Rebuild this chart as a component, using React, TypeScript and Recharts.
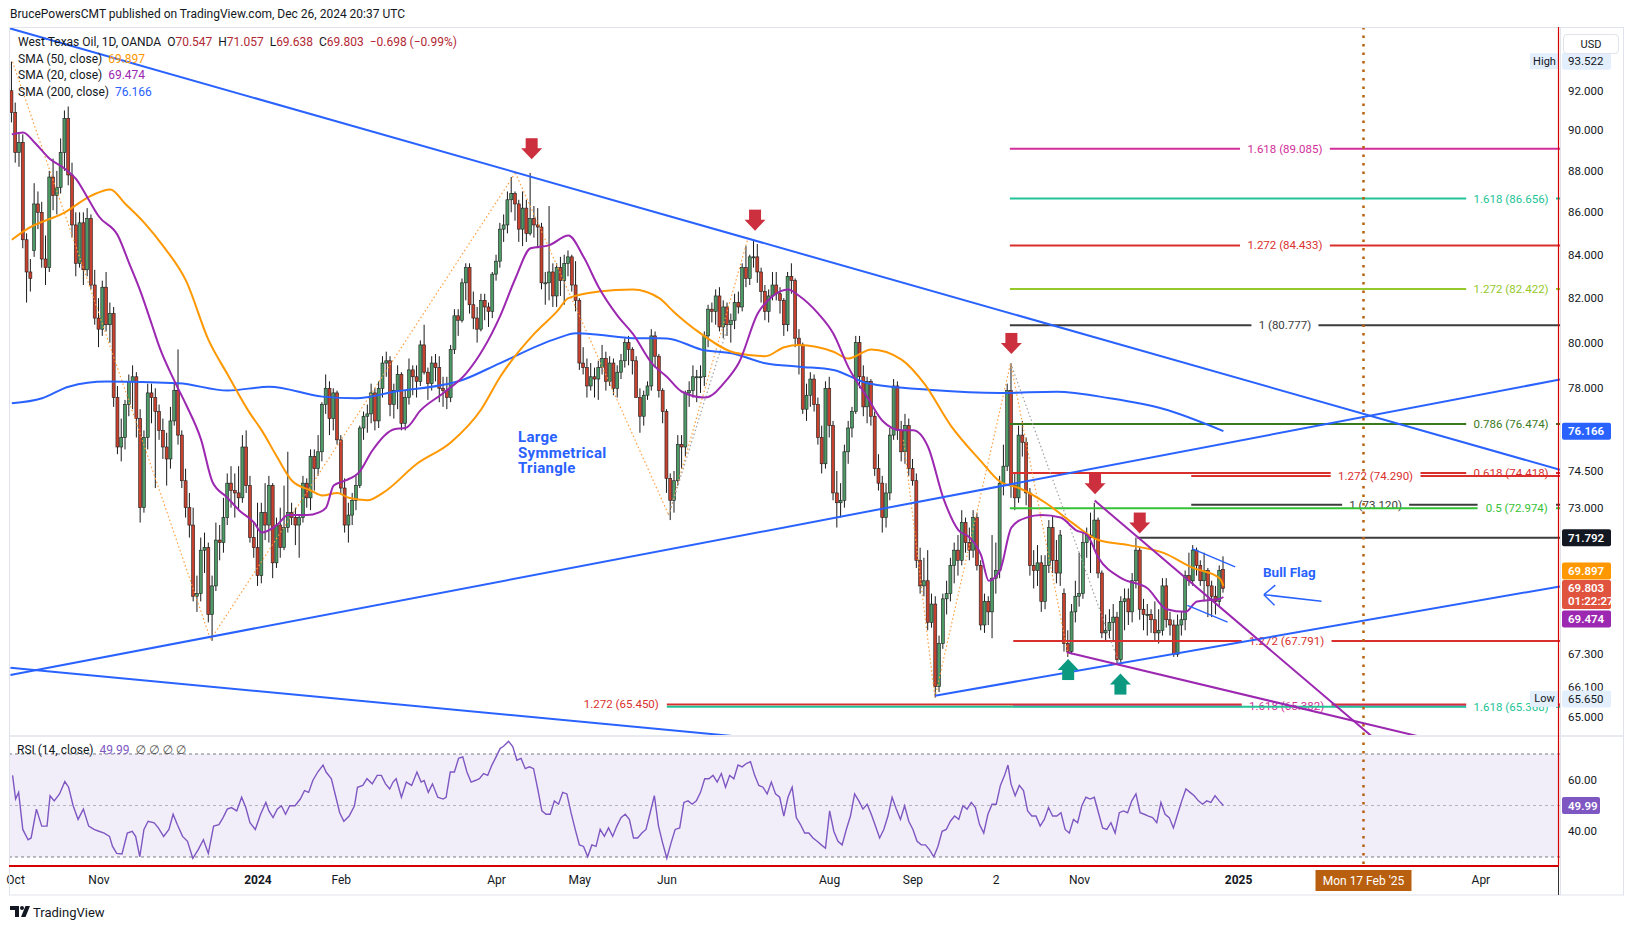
import React from 'react';
import { ComposedChart, Bar, Line, XAxis, YAxis, ReferenceLine, ReferenceArea, ReferenceDot } from 'recharts';

const FONT = "Roboto, 'Noto Sans', 'DejaVu Sans', sans-serif";

// ---- axes domains (bar index / price / rsi) ----
const X_MIN = -0.48;
const X_MAX = 408.9;
const P_MIN = 64.35;
const P_MAX = 95.26;
const R_MIN = 27.28;
const R_MAX = 76.6;

// ---- daily candles [open, high, low, close], one row per trading day from 29 Sep 2023 ----
const sep23 = [[92.0, 93.5, 90.4, 90.9]];
const oct23 = [
  [90.9, 91.4, 88.4, 88.9], [88.9, 89.9, 88.2, 89.4], [89.4, 89.8, 84.3, 84.7], [84.7, 85.0, 81.8, 83.2], [83.2, 83.8, 82.3, 82.9],
  [84.2, 87.4, 83.9, 86.4], [86.4, 87.0, 85.2, 86.0], [86.0, 86.5, 83.4, 83.8], [83.8, 84.9, 82.6, 83.4], [83.4, 88.0, 83.2, 87.7],
  [87.7, 88.6, 86.1, 86.8], [86.8, 88.0, 85.9, 87.2], [87.2, 89.6, 86.9, 88.9], [88.9, 91.0, 88.0, 90.6], [90.6, 91.2, 87.3, 87.8],
  [87.8, 88.4, 84.8, 85.4], [85.4, 86.0, 83.0, 83.6], [83.6, 86.0, 83.4, 85.5], [85.5, 86.0, 82.6, 83.3], [83.3, 86.2, 83.0, 85.7],
  [85.7, 85.9, 82.4, 82.6], [82.6, 83.3, 80.8, 81.1],
];
const nov23 = [
  [81.1, 82.0, 79.8, 80.6], [80.6, 82.8, 80.3, 82.5], [82.5, 83.2, 80.5, 80.8],
  [80.8, 81.8, 80.0, 81.3], [81.3, 81.6, 77.2, 77.6], [77.6, 78.1, 75.2, 75.5], [75.5, 76.7, 74.9, 75.9], [75.9, 77.5, 75.4, 77.3],
  [77.3, 78.6, 76.8, 78.3], [78.3, 79.0, 77.1, 78.5], [78.5, 78.7, 75.9, 76.7], [76.7, 77.1, 72.4, 73.0], [73.0, 76.2, 72.8, 75.9],
  [75.9, 78.2, 75.4, 77.8], [77.8, 78.2, 76.5, 77.6], [77.6, 78.0, 73.8, 77.0], [77.0, 77.3, 75.8, 76.2], [76.2, 76.7, 75.0, 75.5],
  [75.5, 76.1, 73.9, 75.0], [75.0, 77.2, 74.6, 76.6], [76.6, 78.2, 76.4, 77.9], [77.9, 79.7, 75.6, 76.0],
];
const dec23 = [
  [76.0, 76.2, 73.8, 74.1],
  [74.1, 74.6, 72.6, 73.0], [73.0, 73.6, 71.8, 72.3], [72.3, 73.0, 69.3, 69.5], [69.5, 70.3, 68.9, 69.6], [69.6, 71.8, 69.3, 71.3],
  [71.3, 72.0, 70.4, 71.4], [71.4, 71.6, 68.5, 68.8], [68.8, 70.3, 67.8, 69.9], [69.9, 72.4, 69.7, 71.7], [71.7, 72.3, 70.9, 71.6],
  [71.6, 73.4, 71.2, 72.6], [72.6, 74.4, 72.3, 74.0], [74.0, 74.7, 73.0, 73.7], [73.7, 74.4, 72.6, 73.6], [73.6, 74.7, 72.9, 73.4],
  [73.4, 76.0, 73.2, 75.5], [75.5, 76.2, 73.6, 73.9], [73.9, 74.3, 71.6, 71.8], [71.8, 72.4, 71.0, 71.4],
];
const jan24 = [
  [71.4, 73.2, 69.9, 70.3], [70.3, 73.2, 70.0, 72.8], [72.8, 74.0, 71.7, 72.3], [72.3, 74.3, 71.6, 73.9],
  [73.9, 74.0, 70.2, 70.8], [70.8, 72.6, 70.6, 72.3], [72.3, 73.0, 71.0, 71.4], [71.4, 73.9, 71.3, 72.2], [72.2, 75.3, 72.0, 72.8],
  [72.8, 73.2, 72.3, 72.6], [72.6, 73.0, 71.5, 72.3], [72.3, 72.7, 71.0, 72.6], [72.6, 74.3, 72.4, 74.0], [74.0, 74.2, 73.0, 73.4],
  [73.4, 75.4, 72.9, 75.1], [75.1, 75.4, 73.7, 74.6], [74.6, 76.0, 74.3, 75.3], [75.3, 77.4, 74.9, 77.3], [77.3, 78.6, 76.9, 78.0],
  [78.0, 78.3, 76.0, 76.7], [76.7, 78.0, 76.2, 77.8], [77.8, 77.9, 75.6, 75.8],
];
const feb24 = [
  [75.8, 76.0, 73.6, 73.8], [73.8, 74.2, 72.0, 72.3],
  [72.3, 73.2, 71.6, 72.7], [72.7, 73.6, 72.3, 73.3], [73.3, 74.3, 72.9, 73.9], [73.9, 76.4, 73.8, 76.3], [76.3, 77.0, 75.8, 76.8],
  [76.8, 77.3, 76.1, 76.9], [76.9, 78.2, 76.5, 77.8], [77.8, 78.0, 76.2, 76.6], [76.6, 78.3, 76.3, 78.0], [78.0, 79.4, 77.6, 79.1],
  [79.1, 79.6, 78.5, 79.2], [79.2, 79.4, 76.8, 77.3], [77.3, 78.2, 76.7, 77.9], [77.9, 79.0, 77.1, 78.6], [78.6, 78.7, 76.2, 76.5],
  [76.5, 77.9, 76.2, 77.6], [77.6, 79.3, 77.3, 78.8], [78.8, 79.0, 77.7, 78.5], [78.5, 79.0, 77.6, 78.3],
];
const mar24 = [
  [78.3, 80.1, 78.1, 79.9],
  [79.9, 80.8, 78.6, 78.7], [78.7, 78.9, 77.5, 78.2], [78.2, 79.4, 77.9, 79.1], [79.1, 79.5, 78.3, 78.9], [78.9, 79.4, 77.4, 78.0],
  [78.0, 78.5, 77.2, 77.9], [77.9, 78.5, 77.1, 77.6], [77.6, 79.9, 77.4, 79.7], [79.7, 81.5, 79.5, 81.2], [81.2, 81.5, 80.3, 81.0],
  [81.0, 82.9, 80.9, 82.7], [82.7, 83.6, 81.9, 83.4], [83.4, 83.6, 81.3, 81.7], [81.7, 82.3, 80.6, 81.1], [81.1, 81.6, 80.0, 80.6],
  [80.6, 82.2, 80.5, 81.9], [81.9, 82.2, 81.0, 81.6], [81.6, 81.8, 80.7, 81.4], [81.4, 83.2, 81.1, 83.1],
];
const apr24 = [
  [83.1, 84.0, 82.8, 83.7], [83.7, 85.5, 83.4, 85.2], [85.2, 85.9, 84.6, 85.4], [85.4, 87.0, 85.0, 86.6], [86.6, 87.7, 86.0, 86.9],
  [86.9, 87.0, 85.6, 86.4], [86.4, 86.6, 84.6, 85.2], [85.2, 87.0, 84.4, 86.2], [86.2, 86.6, 84.6, 85.0], [85.0, 87.9, 84.9, 85.7],
  [85.7, 86.3, 84.8, 85.4], [85.4, 86.2, 84.3, 85.3], [85.3, 85.5, 82.4, 82.7], [82.7, 83.2, 81.7, 82.7], [82.7, 86.3, 81.9, 83.2],
  [83.2, 83.6, 81.6, 82.1], [82.1, 83.6, 81.6, 83.4], [83.4, 83.9, 82.1, 82.8], [82.8, 84.0, 81.7, 83.6], [83.6, 84.2, 83.0, 83.9],
  [83.9, 84.0, 82.3, 82.6], [82.6, 83.7, 81.4, 81.9],
];
const may24 = [
  [81.9, 82.0, 78.8, 79.1], [79.1, 79.8, 78.6, 78.9], [78.9, 79.3, 77.6, 78.1],
  [78.1, 79.1, 77.9, 78.5], [78.5, 78.9, 77.6, 78.4], [78.4, 79.2, 77.5, 78.9], [78.9, 79.9, 78.6, 79.3], [79.3, 79.6, 77.9, 78.3],
  [78.3, 79.4, 78.1, 79.1], [79.1, 79.3, 77.7, 78.0], [78.0, 79.0, 77.6, 78.7], [78.7, 79.5, 78.4, 79.2], [79.2, 80.2, 78.9, 80.0],
  [80.0, 80.3, 79.0, 79.7], [79.7, 79.8, 78.6, 79.2], [79.2, 79.4, 77.6, 77.6], [77.6, 78.0, 76.1, 76.8], [76.8, 77.9, 76.4, 77.7],
  [77.7, 78.3, 77.5, 78.1], [78.1, 80.6, 77.9, 80.3], [80.3, 80.5, 78.9, 79.4], [79.4, 79.5, 77.6, 77.9], [77.9, 78.0, 76.5, 77.0],
];
const jun24 = [
  [77.0, 77.1, 73.6, 74.2], [74.2, 74.4, 72.5, 73.3], [73.3, 74.5, 72.8, 74.1], [74.1, 76.0, 73.9, 75.6], [75.6, 76.0, 74.6, 75.5],
  [75.5, 77.9, 75.1, 77.8], [77.8, 78.3, 77.2, 77.9], [77.9, 79.0, 77.6, 78.5], [78.5, 78.8, 77.4, 78.5], [78.5, 79.0, 77.8, 78.5],
  [78.5, 80.5, 78.1, 80.3], [80.3, 81.7, 79.8, 81.5], [81.5, 81.8, 80.9, 81.4], [81.4, 82.4, 80.8, 82.1], [82.1, 82.5, 80.5, 80.7],
  [80.7, 81.9, 80.2, 81.6], [81.6, 81.8, 80.3, 80.8], [80.8, 81.3, 80.0, 81.0], [81.0, 82.2, 80.6, 81.8], [81.8, 82.3, 81.3, 81.6],
];
const jul24 = [
  [81.6, 83.6, 81.4, 83.4], [83.4, 84.4, 82.5, 82.9], [82.9, 84.0, 82.6, 83.9], [83.9, 84.7, 83.4, 83.9], [83.9, 84.5, 82.7, 83.2],
  [83.2, 83.4, 81.8, 82.3], [82.3, 82.6, 81.0, 81.4], [81.4, 82.4, 80.9, 82.1], [82.1, 83.2, 81.9, 82.6], [82.6, 83.2, 81.9, 82.2],
  [82.2, 82.5, 81.3, 81.9], [81.9, 82.0, 80.3, 80.8], [80.8, 83.2, 80.5, 83.0], [83.0, 83.6, 82.2, 82.8], [82.8, 82.9, 79.8, 80.2],
  [80.2, 80.6, 78.6, 79.9], [79.9, 80.0, 76.9, 77.1], [77.1, 78.2, 76.6, 77.7], [77.7, 78.7, 77.2, 78.4], [78.4, 78.6, 77.0, 77.3],
  [77.3, 77.6, 75.6, 75.9], [75.9, 76.4, 74.4, 74.8], [74.8, 78.3, 74.6, 78.0],
];
const aug24 = [
  [78.0, 78.5, 75.9, 76.4], [76.4, 76.6, 73.3, 73.6],
  [73.6, 74.5, 72.2, 73.2], [73.2, 74.0, 72.6, 73.3], [73.3, 75.6, 73.0, 75.3], [75.3, 76.6, 74.8, 76.3], [76.3, 77.2, 75.9, 77.0],
  [77.0, 80.3, 76.9, 80.0], [80.0, 80.3, 78.0, 78.5], [78.5, 79.0, 76.8, 77.2], [77.2, 78.5, 76.5, 78.3], [78.3, 78.4, 76.4, 76.8],
  [76.8, 77.0, 74.3, 74.6], [74.6, 75.2, 73.7, 74.0], [74.0, 74.3, 72.0, 72.6], [72.6, 74.0, 72.2, 73.6], [73.6, 76.3, 73.3, 76.0],
  [76.0, 78.4, 75.8, 78.1], [78.1, 78.3, 75.8, 76.2], [76.2, 76.6, 74.9, 75.3], [75.3, 76.9, 74.8, 76.4], [76.4, 76.7, 74.3, 74.6],
];
const sep24 = [
  [74.6, 75.0, 73.9, 74.1], [74.1, 74.4, 70.6, 70.9], [70.9, 71.4, 69.6, 69.9], [69.9, 71.0, 69.5, 70.1], [70.1, 71.3, 68.2, 68.5],
  [68.5, 69.6, 68.3, 69.2], [69.2, 69.5, 65.7, 66.1], [66.1, 68.0, 65.9, 67.7], [67.7, 69.6, 67.5, 69.4], [69.4, 70.1, 68.8, 69.6],
  [69.6, 71.0, 69.3, 70.7], [70.7, 71.6, 70.0, 71.3], [71.3, 71.9, 70.3, 70.9], [70.9, 72.9, 70.7, 72.4], [72.4, 72.6, 71.2, 71.6],
  [71.6, 72.2, 70.9, 71.3], [71.3, 72.9, 71.0, 72.6], [72.6, 72.8, 70.5, 70.7], [70.7, 70.9, 68.2, 68.4], [68.4, 69.6, 68.1, 69.3],
  [69.3, 69.5, 68.4, 68.9],
];
const oct24 = [
  [68.9, 71.9, 67.9, 70.2], [70.2, 71.6, 69.6, 70.5], [70.5, 74.3, 70.2, 74.0], [74.0, 75.6, 73.5, 74.7],
  [74.7, 78.2, 74.5, 77.9], [77.9, 79.1, 73.4, 73.9], [73.9, 74.4, 72.9, 73.4], [73.4, 76.4, 73.2, 76.0], [76.0, 76.6, 75.1, 75.7],
  [75.7, 75.9, 73.1, 73.6], [73.6, 73.8, 70.3, 70.7], [70.7, 71.3, 69.8, 70.5], [70.5, 71.5, 69.9, 70.8], [70.8, 71.1, 68.9, 69.3],
  [69.3, 71.1, 69.0, 70.7], [70.7, 72.5, 70.4, 72.2], [72.2, 72.7, 70.4, 70.9], [70.9, 71.7, 70.0, 70.4], [70.4, 72.1, 69.9, 71.9],
  [69.6, 69.8, 67.4, 67.7], [67.7, 68.2, 67.2, 67.4], [67.4, 69.2, 67.3, 68.9], [68.9, 70.1, 68.5, 69.5],
];
const nov24 = [
  [69.5, 71.2, 69.1, 69.6],
  [69.6, 72.0, 69.4, 71.6], [71.6, 72.2, 71.0, 71.9], [71.9, 72.8, 70.4, 71.8], [71.8, 73.2, 71.3, 72.5], [72.5, 72.6, 70.2, 70.4],
  [70.4, 70.5, 67.9, 68.1], [68.1, 68.8, 67.8, 68.2], [68.2, 69.0, 67.9, 68.5], [68.5, 69.2, 67.8, 68.7], [68.7, 68.9, 66.9, 67.1],
  [67.1, 69.5, 67.0, 69.3], [69.3, 69.8, 68.2, 69.4], [69.4, 69.8, 68.4, 68.9], [68.9, 70.4, 68.5, 70.1], [70.1, 71.8, 69.8, 71.3],
  [71.3, 71.4, 68.6, 69.0], [69.0, 69.4, 68.2, 68.8], [68.8, 69.2, 68.0, 68.8], [68.8, 69.0, 68.1, 68.6], [68.6, 69.3, 67.8, 68.1],
];
const dec24 = [
  [68.1, 69.0, 67.7, 68.2], [68.2, 70.2, 68.0, 69.9], [69.9, 70.2, 68.3, 68.6], [68.6, 68.9, 68.0, 68.4], [68.4, 68.6, 67.2, 67.3],
  [67.3, 68.8, 67.2, 68.4], [68.4, 68.9, 68.0, 68.6], [68.6, 70.5, 68.2, 70.3], [70.3, 71.2, 69.9, 70.1], [70.1, 71.5, 69.9, 71.3],
  [71.3, 71.4, 70.3, 70.7], [70.7, 70.9, 69.9, 70.1], [70.1, 71.2, 69.3, 70.5], [70.5, 70.6, 68.7, 69.9], [69.9, 70.1, 68.7, 69.5],
  [69.5, 69.9, 68.8, 69.3], [69.3, 70.7, 69.1, 70.5], [70.547, 71.057, 69.638, 69.803],
];

// ---- moving averages: [bar index, value] ----
const sma200 = [
  [0, 77.35], [8, 77.57], [15, 78.07], [25, 78.29], [44, 78.22], [57, 77.9], [68, 78.07], [82, 77.64], [91, 77.57], [101, 77.85],
  [119, 78.36], [129, 79.1], [144, 80.19], [149, 80.42], [155, 80.35], [164, 80.2], [173, 80.19], [182, 79.7], [191, 79.5],
  [199, 79.09], [208, 78.94], [217, 78.8], [226, 78.22], [243, 77.93], [261, 77.8], [276, 77.85], [290, 77.57], [304, 77.12], [320, 76.17],
];
const sma50 = [
  [0, 84.7], [4, 85.2], [14, 86.0], [21, 86.8], [26, 87.1], [30, 86.4], [35, 85.5], [40, 84.4], [46, 82.8], [52, 80.1], [57, 78.6],
  [63, 76.9], [66, 76.2], [70, 75.1], [74, 74.1], [79, 73.7], [82, 73.5], [86, 73.6], [89, 73.4], [94, 73.3], [98, 73.6], [107, 74.8],
  [116, 75.7], [124, 77.1], [129, 78.5], [138, 80.4], [144, 81.4], [147, 82.0], [155, 82.3], [164, 82.4], [171, 82.0], [175, 81.35],
  [182, 80.4], [191, 79.55], [199, 79.4], [204, 79.8], [208, 79.9], [217, 79.6], [221, 79.3], [227, 79.7], [235, 79.25], [241, 78.2],
  [248, 76.4], [256, 74.9], [261, 74.06], [266, 73.8], [273, 73.2], [280, 72.4], [287, 71.7], [295, 71.5], [304, 71.2], [312, 70.6],
  [319, 70.2], [320, 69.9],
];
const sma20 = [
  [0, 89.8], [3, 89.9], [6, 89.4], [10, 88.6], [14, 88.1], [17, 87.6], [20, 86.7], [23, 85.8], [28, 84.9], [31, 83.6], [34, 82.3],
  [37, 80.8], [39, 79.8], [43, 78.3], [46, 77.3], [50, 75.8], [53, 74.05], [57, 73.4], [60, 72.9], [64, 72.4], [66, 72.0], [70, 72.3],
  [73, 72.7], [78, 72.7], [81, 72.8], [83, 73.0], [85, 73.9], [88, 74.1], [92, 74.5], [95, 75.3], [101, 76.25], [104, 76.3], [108, 77.06],
  [114, 77.8], [120, 78.65], [129, 81.2], [133, 82.9], [137, 84.3], [142, 84.45], [147, 84.9], [151, 83.9], [155, 82.5], [160, 81.2],
  [164, 80.4], [169, 79.1], [173, 78.5], [177, 77.85], [183, 77.6], [189, 78.4], [192, 79.1], [197, 81.3], [201, 82.1], [205, 82.4],
  [208, 82.1], [213, 81.3], [217, 80.4], [221, 78.9], [226, 77.6], [230, 76.6], [235, 76.2], [238, 76.2], [242, 75.5], [246, 73.4],
  [250, 72.1], [253, 71.8], [256, 71.1], [258, 70.1], [261, 70.5], [264, 72.2], [268, 72.6], [272, 72.7], [277, 72.6], [281, 72.1],
  [284, 71.9], [287, 71.0], [293, 70.2], [300, 69.8], [305, 69.0], [310, 68.9], [313, 69.3], [319, 69.4], [320, 69.47],
];

// ---- RSI(14): [bar index, value] ----
const rsiPts = [
  [0.2, 61.7], [1.0, 52.5], [1.8, 55.1], [2.9, 40.7], [4.3, 36.7], [5.1, 37.4], [6.5, 48.6], [7.9, 42.0], [9.3, 42.0], [10.1, 53.8],
  [11.2, 51.8], [12.6, 54.5], [14.0, 59.3], [15.0, 57.1], [16.2, 49.9], [17.5, 44.6], [18.9, 48.6], [20.3, 42.0], [21.7, 40.7],
  [23.0, 40.0], [24.4, 39.3], [25.8, 38.0], [26.6, 34.1], [27.7, 31.4], [29.1, 31.2], [30.5, 39.3], [31.8, 40.0], [32.7, 38.0],
  [33.8, 30.1], [34.9, 40.7], [36.0, 43.9], [37.6, 43.3], [38.7, 41.3], [40.1, 38.0], [41.5, 40.7], [42.6, 46.6], [43.7, 42.6],
  [45.1, 38.0], [46.4, 36.1], [47.8, 29.5], [49.2, 32.8], [50.6, 36.7], [51.9, 31.4], [53.3, 42.0], [54.7, 42.6], [55.8, 45.3],
  [56.9, 48.6], [58.0, 49.2], [59.4, 47.9], [60.7, 53.2], [61.8, 49.2], [62.9, 43.3], [64.3, 40.7], [65.7, 46.6], [67.1, 51.2],
  [67.9, 47.9], [69.0, 45.3], [70.1, 48.6], [71.2, 49.9], [72.3, 46.6], [73.4, 49.9], [74.8, 49.9], [76.2, 52.5], [77.3, 55.8],
  [78.4, 55.1], [79.5, 59.7], [80.8, 63.0], [82.2, 65.7], [83.0, 63.0], [84.4, 60.4], [85.5, 53.8], [86.6, 47.2], [87.7, 43.9],
  [89.1, 45.9], [90.5, 49.9], [91.3, 57.1], [92.7, 57.8], [93.8, 60.4], [95.2, 58.4], [96.5, 61.7], [97.6, 61.7], [98.7, 58.4],
  [99.8, 56.4], [100.7, 59.1], [101.5, 60.4], [102.9, 53.2], [104.2, 59.1], [105.6, 57.8], [107.0, 63.0], [108.1, 59.1], [108.9, 59.7],
  [110.0, 55.1], [111.1, 58.4], [112.5, 53.2], [113.9, 52.5], [114.7, 53.2], [115.8, 63.0], [116.9, 63.0], [118.0, 68.3], [119.1, 68.9],
  [120.2, 63.0], [121.3, 59.1], [122.4, 59.7], [123.5, 60.4], [124.6, 62.4], [125.7, 61.7], [126.8, 65.7], [127.9, 68.9], [129.0, 72.2],
  [129.8, 72.9], [131.2, 74.9], [132.3, 72.9], [133.4, 67.6], [134.5, 68.3], [135.6, 64.3], [136.7, 65.0], [137.8, 64.3], [138.9, 56.4],
  [140.0, 47.9], [141.1, 46.6], [142.2, 46.6], [143.3, 51.8], [144.4, 50.5], [145.5, 55.1], [146.6, 54.5], [147.7, 47.2], [148.8, 40.7],
  [149.9, 34.7], [151.0, 34.1], [152.1, 30.1], [153.2, 34.7], [154.3, 34.1], [155.4, 40.7], [156.5, 38.0], [157.6, 41.3], [158.7, 38.0],
  [159.8, 42.0], [160.9, 45.3], [162.0, 46.6], [163.1, 44.6], [164.2, 37.4], [165.3, 37.4], [166.4, 39.3], [167.5, 40.7], [168.6, 47.2],
  [169.7, 53.8], [170.8, 42.0], [171.9, 35.4], [173.0, 29.5], [174.1, 35.4], [175.2, 40.7], [176.4, 41.3], [177.5, 51.2], [178.6, 51.8],
  [179.7, 50.5], [180.8, 51.8], [181.9, 55.1], [183.0, 60.4], [184.1, 60.4], [185.2, 61.7], [186.3, 59.1], [187.4, 62.4], [188.5, 57.1],
  [189.6, 61.7], [190.7, 60.4], [191.8, 65.7], [192.9, 65.0], [194.0, 66.3], [195.1, 67.0], [196.2, 61.7], [197.3, 57.8], [198.4, 57.1],
  [199.5, 54.5], [200.6, 59.1], [201.7, 54.5], [202.8, 53.2], [203.9, 45.9], [205.0, 53.2], [206.1, 57.1], [207.2, 45.3], [208.3, 42.6],
  [209.4, 39.3], [210.5, 39.3], [211.6, 37.4], [212.7, 36.1], [213.8, 34.7], [214.9, 33.4], [216.0, 47.9], [217.1, 40.0], [218.2, 36.1],
  [219.3, 34.7], [220.4, 40.7], [221.5, 45.9], [222.6, 54.5], [223.7, 51.8], [224.8, 48.6], [225.9, 50.5], [227.0, 46.6], [228.1, 42.0],
  [229.2, 37.4], [230.3, 40.7], [231.4, 45.9], [232.5, 53.2], [233.6, 48.6], [234.7, 44.6], [235.8, 49.9], [236.9, 43.9], [238.0, 40.7],
  [239.1, 36.1], [240.2, 34.7], [241.3, 34.7], [242.4, 32.8], [243.5, 30.1], [244.6, 34.1], [245.7, 40.0], [246.8, 40.7], [247.9, 43.9],
  [249.0, 45.9], [250.1, 44.6], [251.2, 49.9], [252.3, 48.6], [253.4, 51.2], [254.5, 49.2], [255.6, 42.6], [256.7, 39.3], [257.8, 46.6],
  [258.9, 50.5], [260.0, 50.5], [261.1, 57.8], [262.2, 61.7], [263.1, 65.7], [263.9, 58.4], [265.0, 53.8], [266.1, 57.8], [267.2, 55.8],
  [268.3, 47.9], [269.4, 45.9], [270.5, 45.9], [271.6, 42.0], [272.7, 44.6], [273.8, 49.2], [274.9, 45.9], [276.0, 45.9], [277.1, 47.2],
  [278.2, 40.7], [279.3, 39.3], [280.4, 44.6], [281.5, 43.3], [282.6, 49.9], [283.7, 53.2], [284.8, 52.5], [285.9, 53.2], [287.0, 47.2],
  [288.1, 41.3], [289.2, 40.7], [290.3, 43.3], [291.4, 39.3], [292.5, 47.2], [293.6, 47.9], [294.7, 47.2], [295.8, 51.8], [296.9, 54.5],
  [298.0, 47.2], [299.1, 46.6], [300.2, 45.9], [301.3, 45.3], [302.4, 43.3], [303.5, 51.2], [304.6, 46.6], [305.7, 45.3], [306.8, 41.3],
  [307.9, 46.6], [309.0, 51.8], [310.1, 56.4], [311.2, 55.1], [312.3, 53.8], [313.4, 51.8], [314.5, 50.5], [315.6, 51.8], [316.7, 51.2],
  [317.8, 53.8], [318.9, 51.8], [320, 49.99],
];

// ---- time axis labels (bar index of first bar of period) ----
const timeTicks = [
  { i: 1, label: 'Oct' }, { i: 23, label: 'Nov' }, { i: 65, label: '2024', bold: true }, { i: 87, label: 'Feb' },
  { i: 128, label: 'Apr' }, { i: 150, label: 'May' }, { i: 173, label: 'Jun' }, { i: 216, label: 'Aug' },
  { i: 238, label: 'Sep' }, { i: 260, label: '2' }, { i: 282, label: 'Nov' }, { i: 324, label: '2025', bold: true },
  { i: 357, label: "Mon 17 Feb '25", hl: true }, { i: 388, label: 'Apr' },
];
const priceTicks = [92, 90, 88, 86, 84, 82, 80, 78, 74.5, 73, 67.3, 66.1, 65];
const priceTagValues = [93.522, 65.65, 76.166, 71.792, 69.474, 69.897, 69.803];
const rsiTicks = [60, 40, 49.99];

// ---- drawings ----
const fibLevels = [
  { start: 263.6, price: 89.085, text: '1.618 (89.085)', color: '#d12e99', pos: 'center' },
  { start: 263.6, price: 86.656, text: '1.618 (86.656)', color: '#22c497', pos: 'right' },
  { start: 263.6, price: 84.433, text: '1.272 (84.433)', color: '#d9302e', pos: 'center' },
  { start: 263.6, price: 82.422, text: '1.272 (82.422)', color: '#95c92a', pos: 'right' },
  { start: 263.6, price: 80.777, text: '1 (80.777)', color: '#3c3c3c', pos: 'center' },
  { start: 263.6, price: 76.474, text: '0.786 (76.474)', color: '#3a7a1e', pos: 'right' },
  { start: 263.6, price: 74.418, text: '0.618 (74.418)', color: '#d9302e', pos: 'right' },
  { start: 311.5, price: 74.29, text: '1.272 (74.290)', color: '#d9302e', pos: 'center' },
  { start: 311.5, price: 73.12, text: '1 (73.120)', color: '#3c3c3c', pos: 'center' },
  { start: 263.6, price: 72.974, text: '0.5 (72.974)', color: '#36c236', pos: 'right' },
  { start: 297.3, price: 71.792, text: '', color: '#3c3c3c', pos: 'none' },
  { start: 264.5, price: 67.791, text: '1.272 (67.791)', color: '#d9302e', pos: 'center' },
  { start: 173, price: 65.45, text: '1.272 (65.450)', color: '#d9302e', pos: 'left' },
  { start: 264.5, price: 65.382, text: '1.618 (65.382)', color: '#d12e99', pos: 'center' },
  { start: 173, price: 65.368, text: '1.618 (65.368)', color: '#22c497', pos: 'right' },
];
const trendLines = [
  { a: [-0.48, 95.24], b: [408.9, 74.55], color: '#2962ff', w: 2 },
  { a: [-0.37, 66.53], b: [408.9, 78.38], color: '#2962ff', w: 2 },
  { a: [-0.37, 66.8], b: [200, 64.19], color: '#2962ff', w: 2 },
  { a: [243.8, 65.77], b: [408.9, 69.88], color: '#2962ff', w: 2 },
  { a: [286, 73.29], b: [362, 63.98], color: '#9c27b0', w: 2 },
  { a: [278.6, 67.37], b: [380, 64.03], color: '#9c27b0', w: 2 },
  { a: [311.7, 71.36], b: [323.1, 70.64], color: '#2962ff', w: 1.5 },
  { a: [310.5, 69.15], b: [321.1, 68.51], color: '#2962ff', w: 1.5 },
  { a: [345.9, 69.31], b: [330.7, 69.56], color: '#2962ff', w: 1.5 },
  { a: [330.7, 69.56], b: [333.7, 69.93], color: '#2962ff', w: 1.5 },
  { a: [330.7, 69.56], b: [333.5, 69.15], color: '#2962ff', w: 1.5 },
];
const zigzags = [
  { a: [0.2, 93.49], b: [52.5, 67.85], color: '#ff9f40' },
  { a: [52.5, 67.85], b: [133, 87.9], color: '#ff9f40' },
  { a: [133, 87.9], b: [173.5, 72.7], color: '#ff9f40' },
  { a: [173.5, 72.7], b: [194.5, 84.8], color: '#ff9f40' },
  { a: [173.5, 72.7], b: [190, 81.2], color: '#a0a0a0' },
  { a: [235.5, 75.8], b: [243.8, 65.7], color: '#ff9f40' },
  { a: [243.8, 65.7], b: [263.8, 79.1], color: '#ff9f40' },
  { a: [263.8, 79.1], b: [279, 67.25], color: '#ff9f40' },
  { a: [263.8, 79.1], b: [292.6, 66.9], color: '#a0a0a0' },
];
const downArrows = [[137.3, 88.57], [196.3, 85.13], [264, 79.5], [286.1, 73.55], [297.9, 71.96]];
const upArrows = [[279, 67.12], [292.8, 66.58]];
const futureLine = 357;

const priceTags = [
  { value: 76.166, bg: '#2962ff', fg: '#ffffff', dy: 0 },
  { value: 71.792, bg: '#131722', fg: '#ffffff', dy: 0 },
  { value: 69.897, bg: '#ff9800', fg: '#ffffff', dy: -15 },
  { value: 69.474, bg: '#9c27b0', fg: '#ffffff', dy: 22 },
  { value: 69.803, bg: '#e0533f', fg: '#ffffff', dy: 0, sub: '01:22:27' },
  { value: 93.522, bg: '#e3effd', fg: '#131722', dy: 0, side: 'High' },
  { value: 65.65, bg: '#e3effd', fg: '#131722', dy: 0, side: 'Low' },
];

// ---- derived chart tables ----
const ohlc = [...sep23, ...oct23, ...nov23, ...dec23, ...jan24, ...feb24, ...mar24, ...apr24, ...may24, ...jun24, ...jul24, ...aug24, ...sep24, ...oct24, ...nov24, ...dec24];
const candleData: any[] = ohlc.map((r, i) => ({ x: i, o: r[0], h: r[1], l: r[2], c: r[3], range: [r[2], r[1]] }));
const attach = (key: string, pts: number[][]) => pts.forEach(([i, v]) => { if (candleData[i]) candleData[i][key] = v; });
attach('s200', sma200);
attach('s50', sma50);
attach('s20', sma20);
const rsiData = rsiPts.map(([x, v]) => ({ x, v }));

// ---- shapes ----
const Candle = (props: any) => {
  const { x, y, width, height } = props;
  const d = props.payload || props;
  if (x == null || y == null || !d || d.h == null) return null;
  const cx = x + (width || 0) / 2;
  const top = Math.min(y, y + height);
  const bot = Math.max(y, y + height);
  const lh = Math.log(d.h);
  const span = lh - Math.log(d.l);
  const py = (v: number) => (span > 0 ? top + ((bot - top) * (lh - Math.log(v))) / span : top);
  const yo = py(d.o);
  const yc = py(d.c);
  const up = d.c >= d.o;
  return (
    <g>
      <line x1={cx} x2={cx} y1={top} y2={bot} stroke="#1a1a1a" strokeWidth={1} />
      <rect x={cx - 1.5} y={Math.min(yo, yc)} width={3} height={Math.max(1, Math.abs(yc - yo))} fill={up ? '#4d9a66' : '#c8412e'} stroke="#1e1e1e" strokeWidth={0.6} />
    </g>
  );
};

const DownArrow = ({ cx, cy }: any) => (
  <g>
    <rect x={cx - 6} y={cy - 21} width={12} height={11} fill="#cc2f3d" />
    <polygon points={`${cx - 10.5},${cy - 11} ${cx + 10.5},${cy - 11} ${cx},${cy}`} fill="#cc2f3d" />
  </g>
);
const UpArrow = ({ cx, cy }: any) => (
  <g>
    <rect x={cx - 6} y={cy + 10} width={12} height={11} fill="#0b9980" />
    <polygon points={`${cx - 10.5},${cy + 11} ${cx + 10.5},${cy + 11} ${cx},${cy}`} fill="#0b9980" />
  </g>
);

const FibLabel = (props: any) => {
  const { viewBox, text, color, pos } = props;
  if (!viewBox || !text) return null;
  const { x, y, width } = viewBox;
  const w = text.length * 5.7 + 10;
  if (pos === 'left') {
    return <text x={x - 8} y={y} textAnchor="end" dominantBaseline="central" fontSize={11.5} fill={color} fontFamily={FONT}>{text}</text>;
  }
  const cx = pos === 'center' ? x + width / 2 : x + width - 9 - (w - 10) / 2;
  return (
    <g>
      <rect x={cx - w / 2} y={y - 7} width={w} height={14} fill="#ffffff" />
      <text x={cx} y={y} textAnchor="middle" dominantBaseline="central" fontSize={11.5} fill={color} fontFamily={FONT}>{text}</text>
    </g>
  );
};

const PriceTick = (props: any) => {
  const { x, y, payload } = props;
  const v = Number(payload.value);
  const tag = priceTags.find((t) => Math.abs(t.value - v) < 1e-6);
  if (!tag) {
    return <text x={x + 8} y={y} dominantBaseline="central" fontSize={11.5} fill="#131722" fontFamily={FONT}>{v.toFixed(3)}</text>;
  }
  const cy = y + tag.dy;
  const h = tag.sub ? 29 : 17;
  return (
    <g fontFamily={FONT}>
      {tag.side ? (
        <g>
          <rect x={x - 30} y={cy - 8} width={29} height={16} fill="#e3effd" />
          <text x={x - 15.5} y={cy} textAnchor="middle" dominantBaseline="central" fontSize={11} fill="#131722">{tag.side}</text>
        </g>
      ) : null}
      <rect x={x + 2} y={cy - 8.5} width={49} height={h} rx={2} fill={tag.bg} />
      <text x={x + 8} y={cy} dominantBaseline="central" fontSize={11.5} fill={tag.fg} fontWeight={tag.side ? 400 : 600}>{v.toFixed(3)}</text>
      {tag.sub ? <text x={x + 8} y={cy + 13} dominantBaseline="central" fontSize={11.5} fill={tag.fg} fontWeight={600}>{tag.sub}</text> : null}
    </g>
  );
};

const RsiTick = (props: any) => {
  const { x, y, payload } = props;
  const v = Number(payload.value);
  if (Math.abs(v - 49.99) < 1e-6) {
    return (
      <g fontFamily={FONT}>
        <rect x={x + 2} y={y - 8.5} width={38} height={17} rx={2} fill="#7e57c2" />
        <text x={x + 8} y={y} dominantBaseline="central" fontSize={11.5} fill="#ffffff" fontWeight={600}>{v.toFixed(2)}</text>
      </g>
    );
  }
  return <text x={x + 8} y={y} dominantBaseline="central" fontSize={11.5} fill="#131722" fontFamily={FONT}>{v.toFixed(2)}</text>;
};

const TimeTick = (props: any) => {
  const { x, y, payload } = props;
  const t = timeTicks.find((k) => k.i === payload.value);
  if (!t) return null;
  if (t.hl) {
    return (
      <g fontFamily={FONT}>
        <rect x={x - 48} y={y + 6} width={96} height={21} fill="#b8600f" />
        <text x={x} y={y + 16.5} textAnchor="middle" dominantBaseline="central" fontSize={12} fill="#ffffff">{t.label}</text>
      </g>
    );
  }
  return <text x={x} y={y + 16} textAnchor="middle" dominantBaseline="central" fontSize={12} fill="#131722" fontWeight={t.bold ? 700 : 400} fontFamily={FONT}>{t.label}</text>;
};

const seg = (a: number[], b: number[]) => [{ x: a[0], y: a[1] }, { x: b[0], y: b[1] }];

export default function App() {
  return (
    <div style={{ position: 'absolute', left: 0, top: 0, width: 1634, height: 931, background: '#ffffff', overflow: 'hidden', fontFamily: FONT, color: '#131722' }}>
      <div style={{ position: 'absolute', left: 0, top: 0 }}>
        <ComposedChart width={1634} height={737} data={candleData} margin={{ top: 28, right: 0, bottom: 2, left: 10 }}>
          <XAxis dataKey="x" type="number" domain={[X_MIN, X_MAX]} allowDataOverflow hide />
          <YAxis orientation="right" scale="log" domain={[P_MIN, P_MAX]} allowDataOverflow ticks={[...priceTicks, ...priceTagValues]} interval={0} width={74} axisLine={false} tickLine={false} tickSize={0} tickMargin={0} tick={<PriceTick />} />
          {fibLevels.map((f, k) => (
            <ReferenceLine key={`f${k}`} segment={seg([f.start, f.price], [X_MAX, f.price])} stroke={f.color} strokeWidth={2} ifOverflow="hidden" label={f.pos !== 'none' ? <FibLabel text={f.text} color={f.color} pos={f.pos} /> : undefined} />
          ))}
          <ReferenceLine x={futureLine} stroke="#b8600f" strokeWidth={2.5} strokeDasharray="2.5 6" />
          {zigzags.map((z, k) => (
            <ReferenceLine key={`z${k}`} segment={seg(z.a, z.b)} stroke={z.color} strokeWidth={1.2} strokeDasharray="1.5 2.5" ifOverflow="hidden" />
          ))}
          <Bar dataKey="range" barSize={3} isAnimationActive={false} shape={(p: any) => <Candle {...p} />} />
          <Line dataKey="s200" type="monotone" stroke="#2962ff" strokeWidth={2} dot={false} connectNulls isAnimationActive={false} />
          <Line dataKey="s50" type="monotone" stroke="#ff9800" strokeWidth={2} dot={false} connectNulls isAnimationActive={false} />
          <Line dataKey="s20" type="monotone" stroke="#9c27b0" strokeWidth={2} dot={false} connectNulls isAnimationActive={false} />
          {trendLines.map((t, k) => (
            <ReferenceLine key={`t${k}`} segment={seg(t.a, t.b)} stroke={t.color} strokeWidth={t.w} ifOverflow="hidden" />
          ))}
          {downArrows.map((a, k) => (
            <ReferenceDot key={`d${k}`} x={a[0]} y={a[1]} r={1} ifOverflow="visible" shape={(p: any) => <DownArrow cx={p.cx} cy={p.cy} />} />
          ))}
          {upArrows.map((a, k) => (
            <ReferenceDot key={`u${k}`} x={a[0]} y={a[1]} r={1} ifOverflow="visible" shape={(p: any) => <UpArrow cx={p.cx} cy={p.cy} />} />
          ))}
        </ComposedChart>
      </div>

      <div style={{ position: 'absolute', left: 0, top: 737 }}>
        <ComposedChart width={1634} height={160} data={rsiData} margin={{ top: 0, right: 0, bottom: 0, left: 10 }}>
          <XAxis dataKey="x" type="number" domain={[X_MIN, X_MAX]} allowDataOverflow ticks={timeTicks.map((t) => t.i)} interval={0} height={33} axisLine={false} tickLine={false} tickSize={0} tickMargin={0} tick={<TimeTick />} />
          <YAxis orientation="right" domain={[R_MIN, R_MAX]} allowDataOverflow ticks={rsiTicks} interval={0} width={74} axisLine={false} tickLine={false} tickSize={0} tickMargin={0} tick={<RsiTick />} />
          <ReferenceArea y1={30} y2={70} fill="#7e57c2" fillOpacity={0.1} stroke="none" />
          <ReferenceLine y={70} stroke="#787b86" strokeDasharray="3 3" />
          <ReferenceLine y={50} stroke="#b2b5be" strokeDasharray="3 3" />
          <ReferenceLine y={30} stroke="#787b86" strokeDasharray="3 3" />
          <ReferenceLine x={futureLine} stroke="#b8600f" strokeWidth={2.5} strokeDasharray="2.5 6" />
          <Line dataKey="v" type="linear" stroke="#7e57c2" strokeWidth={1.4} dot={false} isAnimationActive={false} />
        </ComposedChart>
      </div>

      {/* frame and separators */}
      <svg width={1634} height={931} style={{ position: 'absolute', left: 0, top: 0, pointerEvents: 'none' }}>
        <rect x={9.5} y={27.5} width={1614} height={867.5} fill="none" stroke="#e0e3eb" />
        <line x1={9} x2={1624} y1={736} y2={736} stroke="#e0e3eb" strokeWidth={1.5} />
        <line x1={1560.5} x2={1560.5} y1={27} y2={895} stroke="#e0e3eb" />
        <line x1={1558.5} x2={1558.5} y1={27} y2={866} stroke="#d50000" strokeWidth={1.2} />
        <line x1={1558.5} x2={1558.5} y1={866} y2={895} stroke="#333" strokeWidth={1} />
        <line x1={9} x2={1558.5} y1={866} y2={866} stroke="#d50000" strokeWidth={2} />
        {/* TradingView logo */}
        <path d="M10 906 h9 v11 h-4 v-7 h-5 z" fill="#131722" />
        <circle cx={22} cy={908} r={2} fill="#131722" />
        <path d="M21 917 L25.5 906 L30 906 L25.5 917 Z" fill="#131722" />
      </svg>

      <div style={{ position: 'absolute', left: 10, top: 6, fontSize: 12, lineHeight: '17px', color: '#131722', whiteSpace: 'nowrap' }}>
        BrucePowersCMT published on TradingView.com, Dec 26, 2024 20:37 UTC
      </div>

      <div style={{ position: 'absolute', left: 18, top: 34, fontSize: 12, lineHeight: '16.7px', whiteSpace: 'pre' }}>
        <div>
          <span>West Texas Oil, 1D, OANDA  </span>
          <span>O</span><span style={{ color: '#b22833' }}>70.547</span><span>  H</span><span style={{ color: '#b22833' }}>71.057</span>
          <span>  L</span><span style={{ color: '#b22833' }}>69.638</span><span>  C</span><span style={{ color: '#b22833' }}>69.803</span>
          <span style={{ color: '#b22833' }}>  −0.698 (−0.99%)</span>
        </div>
        <div>SMA (50, close)  <span style={{ color: '#ff9800' }}>69.897</span></div>
        <div>SMA (20, close)  <span style={{ color: '#9c27b0' }}>69.474</span></div>
        <div>SMA (200, close)  <span style={{ color: '#2962ff' }}>76.166</span></div>
      </div>

      <div style={{ position: 'absolute', left: 17, top: 742, fontSize: 12, lineHeight: '16px', whiteSpace: 'pre' }}>
        RSI (14, close)  <span style={{ color: '#7e57c2' }}>49.99</span>  <span style={{ color: '#555' }}>∅ ∅ ∅ ∅</span>
      </div>

      <div style={{ position: 'absolute', left: 518, top: 430, fontSize: 15, lineHeight: '15.7px', letterSpacing: '0.3px', fontWeight: 700, color: '#2962ff' }}>
        <div>Large</div>
        <div>Symmetrical</div>
        <div>Triangle</div>
      </div>
      <div style={{ position: 'absolute', left: 1263, top: 564, fontSize: 13.5, lineHeight: '17px', fontWeight: 700, color: '#2962ff' }}>Bull Flag</div>

      <div style={{ position: 'absolute', left: 1563, top: 34, width: 56, height: 20, border: '1px solid #e0e3eb', borderRadius: 4, background: '#fff', fontSize: 11, lineHeight: '20px', textAlign: 'center', color: '#131722', boxSizing: 'border-box' }}>USD</div>

      <div style={{ position: 'absolute', left: 33, top: 904, fontSize: 13, lineHeight: '18px', color: '#131722' }}>TradingView</div>
    </div>
  );
}
